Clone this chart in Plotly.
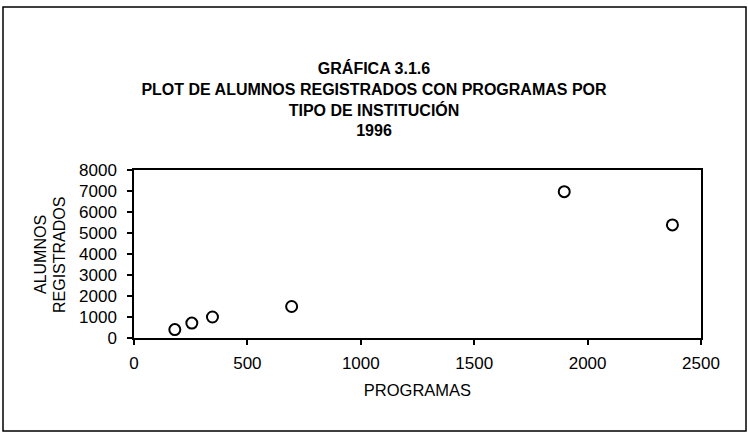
import plotly.graph_objects as go

# Data
programas = [180, 255, 346, 695, 1897, 2374]
alumnos = [400, 710, 1000, 1500, 6970, 5385]

x_ticks = [0, 500, 1000, 1500, 2000, 2500]
y_ticks = [0, 1000, 2000, 3000, 4000, 5000, 6000, 7000, 8000]

title_lines = ["GRÁFICA 3.1.6",
               "PLOT DE ALUMNOS REGISTRADOS CON PROGRAMAS POR",
               "TIPO DE INSTITUCIÓN",
               "1996"]
y_title_lines = ["ALUMNOS", "REGISTRADOS"]
x_title = "PROGRAMAS"

W, H = 748, 432
L, R, T, B = 134, 47, 170, 94
pw, ph = W - L - R, H - T - B

def px_to_paper_x(px):
    return (px - L) / pw

def px_to_paper_y(py):
    return (H - B - py) / ph

fig = go.Figure()
fig.add_trace(go.Scatter(
    x=programas, y=alumnos, mode="markers",
    marker=dict(symbol="circle-open", size=11, color="black",
                line=dict(width=2, color="black")),
    showlegend=False, hoverinfo="x+y"))

font_family = "Arial, Liberation Sans, sans-serif"

fig.update_layout(
    width=W, height=H,
    margin=dict(l=L, r=R, t=T, b=B),
    paper_bgcolor="white", plot_bgcolor="white",
    font=dict(family=font_family, color="black", size=16),
    title=dict(text="<br>".join(title_lines), x=0.5, xanchor="center",
               xref="container", yref="container", y=1 - 74 / H, yanchor="top",
               font=dict(size=16, family=font_family, weight="bold", color="black")),
    xaxis=dict(range=[0, 2500], tickvals=x_ticks, ticktext=[str(v) for v in x_ticks],
               showgrid=False, zeroline=False, showline=True, linecolor="black",
               linewidth=1.5, mirror=True, ticks="outside", ticklen=5, tickwidth=1.5,
               tickcolor="black", ticklabelstandoff=4,
               tickfont=dict(size=17, color="black"),
               title=dict(text=x_title, standoff=12,
                          font=dict(size=16.5, color="black"))),
    yaxis=dict(range=[0, 8000], tickvals=y_ticks, ticktext=[str(v) for v in y_ticks],
               showgrid=False, zeroline=False, showline=True, linecolor="black",
               linewidth=1.5, mirror=True, ticks="outside", ticklen=5, tickwidth=1.5,
               tickcolor="black", ticklabelstandoff=7,
               tickfont=dict(size=17, color="black")),
)

for line_text, cx in zip(y_title_lines, [40, 59]):
    fig.add_annotation(
        text=line_text, textangle=-90,
        xref="paper", yref="paper", x=px_to_paper_x(cx), y=px_to_paper_y(255),
        xanchor="center", yanchor="middle", showarrow=False,
        font=dict(size=16, color="black", family=font_family))

# Outer frame around the whole chart
fig.add_shape(type="rect", xref="paper", yref="paper",
              x0=px_to_paper_x(3), x1=px_to_paper_x(746),
              y0=px_to_paper_y(431), y1=px_to_paper_y(7),
              line=dict(color="black", width=1.5), fillcolor="rgba(0,0,0,0)")

fig.write_html("out.html", config={"displayModeBar": False},
               post_script="document.body.style.margin='0';")
